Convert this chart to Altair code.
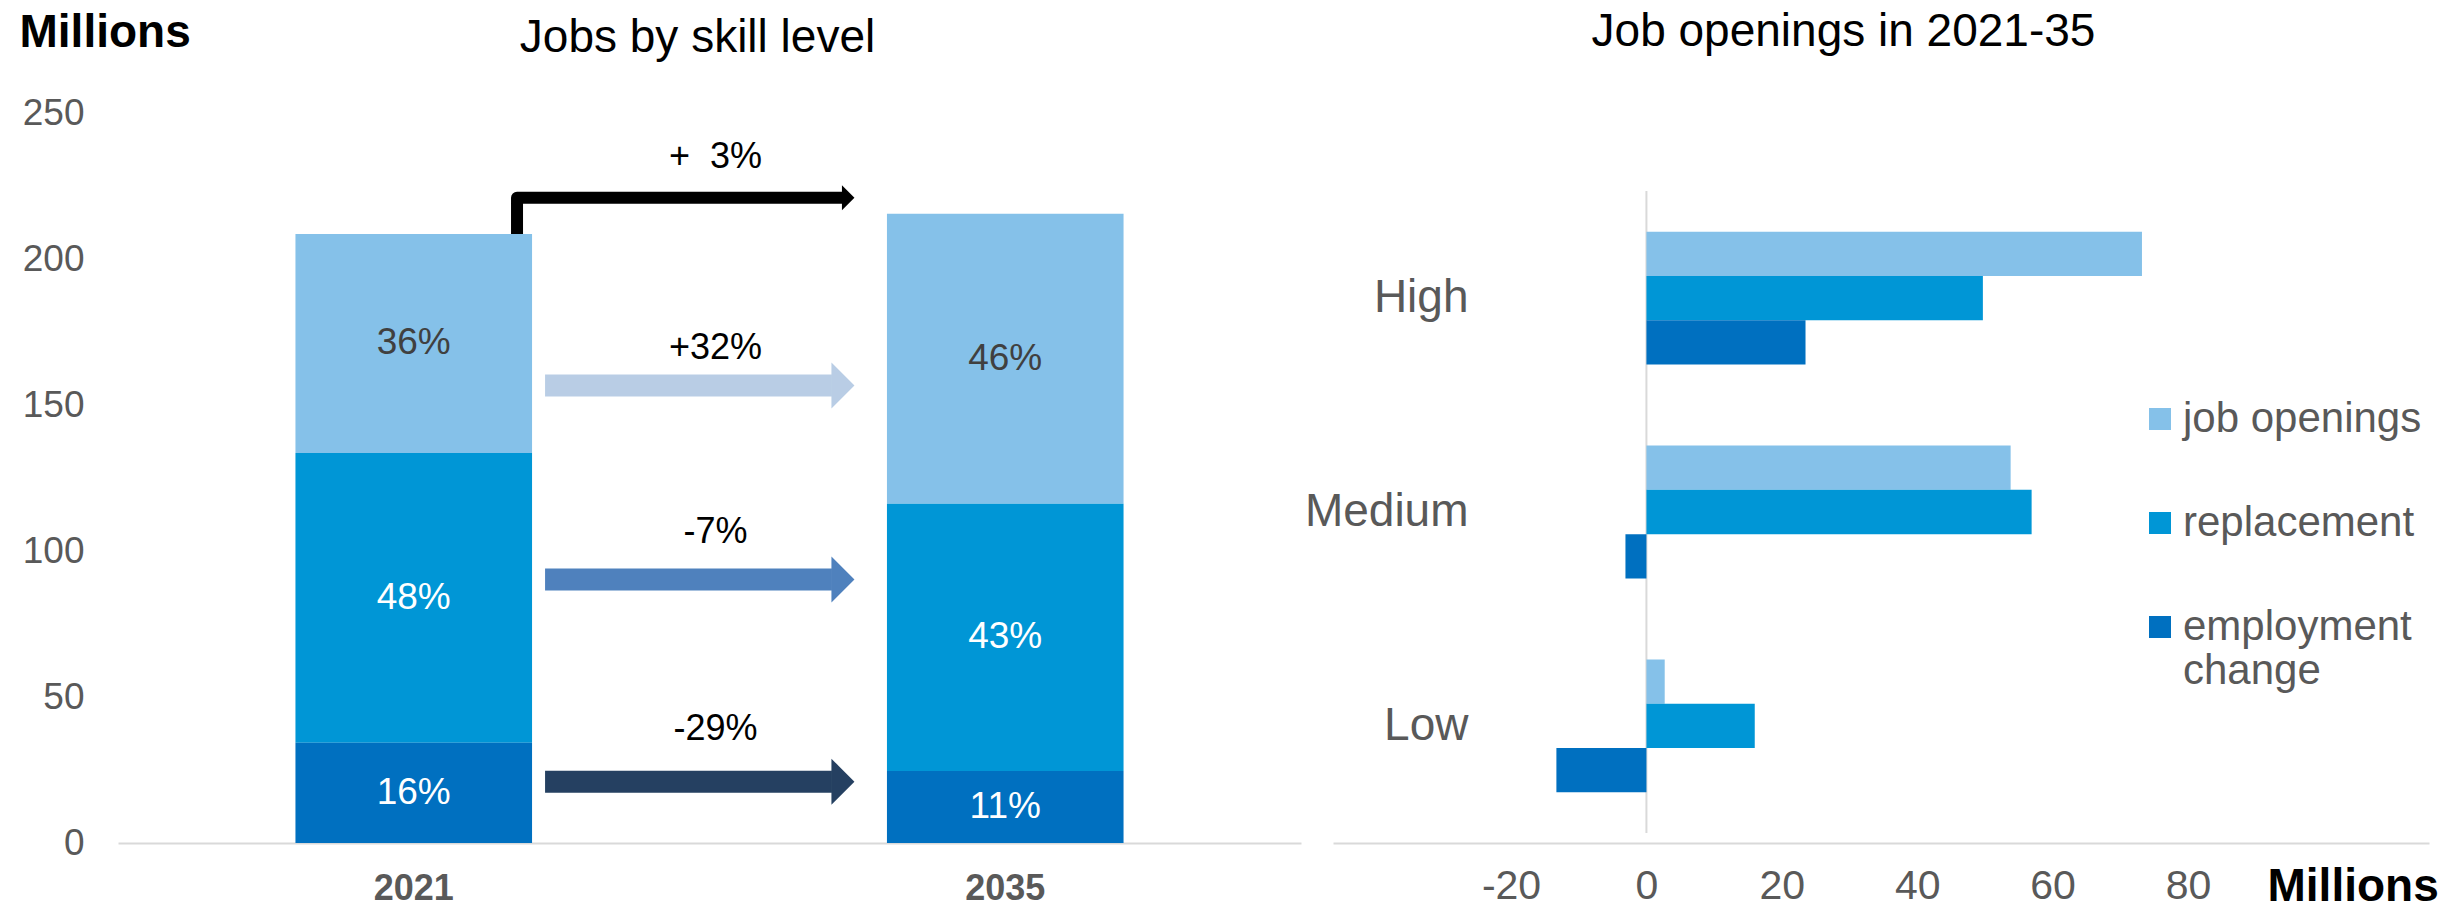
import altair as alt
import pandas as pd

FONT = "Liberation Sans"

# ---------------- left panel: jobs by skill level ----------------
years = ["2021", "2035"]
levels = ["High", "Medium", "Low"]
jobs_2021 = [75.0, 99.3, 34.3]
jobs_2035 = [99.3, 91.5, 24.7]
share_2021 = ["36%", "48%", "16%"]
share_2035 = ["46%", "43%", "11%"]
level_colors = ["#85C1E9", "#0096D6", "#0070C0"]
left_y_ticks = [0, 50, 100, 150, 200, 250]

# change arrows (total, high, medium, low)
change_labels = ["+\u00a0\u00a03%", "+32%", "-7%", "-29%"]
change_label_y = [234.8, 169.4, 106.5, 39.2]
arrow_y = [221.0, 156.7, 90.2, 21.0]
arrow_colors = ["#000000", "#B9CDE5", "#4F81BD", "#254061"]

# ---------------- right panel: job openings 2021-35 ----------------
skills = ["High", "Medium", "Low"]
series = ["job openings", "replacement", "employment change"]
job_openings = [73.2, 53.8, 2.7]
replacement = [49.7, 56.9, 16.0]
employment_change = [23.5, -3.1, -13.3]
series_colors = ["#85C1E9", "#0096D6", "#0070C0"]
right_x_ticks = [-20, 0, 20, 40, 60, 80]

# ---------------- tables ----------------
rows = []
for yr, vals, shares in zip(years, [jobs_2021, jobs_2035], [share_2021, share_2035]):
    for i, (lv, v, s) in enumerate(zip(levels, vals, shares)):
        rows.append({"year": yr, "level": lv, "value": v, "share": s,
                     "stack_order": len(levels) - 1 - i})
bars_df = pd.DataFrame(rows)

straight_df = pd.DataFrame({"y": arrow_y[1:], "color": arrow_colors[1:]})
straight_df["x0"] = 0.722
straight_df["x1"] = 1.207
straight_df["tip"] = 1.245

bent_df = pd.DataFrame({
    "x": [0.6746, 0.6746, 1.226],
    "y": [sum(jobs_2021), arrow_y[0], arrow_y[0]],
    "o": [0, 1, 2],
})
bent_head_df = pd.DataFrame({"tip": [1.245], "y": [arrow_y[0]]})
labels_df = pd.DataFrame({"label": change_labels, "y": change_label_y})
labels_df["x"] = 1.01

rrows = []
for si, sk in enumerate(skills):
    for se, vals in zip(series, [job_openings, replacement, employment_change]):
        rrows.append({"skill": sk, "series": se, "value": vals[si]})
right_df = pd.DataFrame(rrows)

# one slot per skill group: the zero line spans the three slots
zero_df = pd.DataFrame({"z": [0], "g0": [0], "g1": [len(skills)]})

# ---------------- layout (pixels inside the single view) ----------------
VIEW_W, VIEW_H = 2311, 730
LEFT_RANGE = [0, 1183]
RIGHT_RANGE = [1215, 2311]
RIGHT_Y_RANGE = [78, 720]


def band_x():
    return alt.Scale(domain=years, range=LEFT_RANGE, paddingInner=0.6, paddingOuter=0.3)


def y_left():
    return alt.Scale(domain=[0, 250], nice=False)


def q_left():
    return alt.Scale(domain=[0, 2], range=LEFT_RANGE, nice=False, zero=False)


def x_right():
    return alt.Scale(domain=[-46.3, 115.6], range=RIGHT_RANGE, nice=False)


# ---------------- left panel layers ----------------
y_axis_left = alt.Axis(
    orient="left", values=left_y_ticks, title="Millions", titleAngle=0,
    titleX=-99, titleY=-67, titleAlign="left", titleBaseline="alphabetic",
    titleFontSize=46, titleFontWeight="bold", titleColor="black", titleFont=FONT,
    labelFont=FONT, labelFontSize=37, labelColor="#595959", labelPadding=34,
    ticks=False, domain=False, grid=False,
)
x_axis_left = alt.Axis(
    orient="bottom", title=None, labelFont=FONT, labelFontSize=36,
    labelFontWeight="bold", labelColor="#595959", labelPadding=28, labelAngle=0,
    ticks=False, domainColor="#D9D9D9", domainWidth=2, grid=False,
)

left_bars = alt.Chart(bars_df).mark_bar().encode(
    x=alt.X("year:N", scale=band_x(), axis=x_axis_left),
    y=alt.Y("value:Q", stack="zero", scale=y_left(), axis=y_axis_left),
    color=alt.Color("level:N", scale=alt.Scale(domain=levels, range=level_colors), legend=None),
    order=alt.Order("stack_order:Q"),
)

left_text = alt.Chart(bars_df).transform_stack(
    stack="value", groupby=["year"], as_=["v0", "v1"],
    sort=[alt.SortField(field="stack_order", order="ascending")],
).transform_calculate(
    mid="(datum.v0 + datum.v1) / 2"
).mark_text(font=FONT, fontSize=37, baseline="middle", align="center").encode(
    x=alt.X("year:N", scale=band_x(), axis=None, bandPosition=0.5),
    y=alt.Y("mid:Q", scale=y_left(), axis=None),
    text="share:N",
    color=alt.condition(alt.datum.level == "High", alt.value("#404040"), alt.value("white")),
)

arrow_body = alt.Chart(straight_df).mark_rule(strokeWidth=22, strokeCap="butt").encode(
    x=alt.X("x0:Q", scale=q_left(), axis=None),
    x2="x1:Q",
    y=alt.Y("y:Q", scale=y_left(), axis=None),
    color=alt.Color("color:N", scale=None, legend=None),
)
arrow_head = alt.Chart(straight_df).mark_point(
    shape="M-1,-1L0,0L-1,1Z", filled=True, size=2116, opacity=1, strokeWidth=0
).encode(
    x=alt.X("tip:Q", scale=q_left(), axis=None),
    y=alt.Y("y:Q", scale=y_left(), axis=None),
    color=alt.Color("color:N", scale=None, legend=None),
)
bent_line = alt.Chart(bent_df).mark_line(
    color="black", strokeWidth=12, strokeJoin="round", strokeCap="butt"
).encode(
    x=alt.X("x:Q", scale=q_left(), axis=None),
    y=alt.Y("y:Q", scale=y_left(), axis=None),
    order="o:Q",
)
bent_head = alt.Chart(bent_head_df).mark_point(
    shape="M-1,-1L0,0L-1,1Z", filled=True, size=625, opacity=1, strokeWidth=0, color="black"
).encode(
    x=alt.X("tip:Q", scale=q_left(), axis=None),
    y=alt.Y("y:Q", scale=y_left(), axis=None),
)
change_text = alt.Chart(labels_df).mark_text(
    font=FONT, fontSize=36, color="black", baseline="middle", align="center"
).encode(
    x=alt.X(
        "x:Q", scale=q_left(),
        axis=alt.Axis(
            orient="top", labels=False, ticks=False, domain=False, grid=False,
            title="Jobs by skill level", titleX=579, titleY=-62,
            titleAlign="center", titleBaseline="alphabetic", titleFont=FONT,
            titleFontSize=46, titleFontWeight="normal", titleColor="black",
        ),
    ),
    y=alt.Y("y:Q", scale=y_left(), axis=None),
    text="label:N",
)

# ---------------- right panel layers ----------------
zero_rule = alt.Chart(zero_df).mark_rule(color="#D9D9D9", strokeWidth=2).encode(
    x=alt.X(
        "z:Q", scale=x_right(),
        axis=alt.Axis(
            orient="top", labels=False, ticks=False, domain=False, grid=False,
            title="Job openings in 2021-35", titleX=1725, titleY=-68,
            titleAlign="center", titleBaseline="alphabetic", titleFont=FONT,
            titleFontSize=46, titleFontWeight="normal", titleColor="black",
        ),
    ),
    y=alt.Y("g0:Q", scale=alt.Scale(domain=[0, len(skills)], range=RIGHT_Y_RANGE, nice=False, zero=False), axis=None),
    y2="g1:Q",
)

right_bars = alt.Chart(right_df).mark_bar().encode(
    x=alt.X(
        "value:Q", stack=None, scale=x_right(),
        axis=alt.Axis(
            orient="bottom", values=right_x_ticks, labelExpr="'' + datum.value",
            title="Millions", titleX=2149, titleY=57, titleAlign="left",
            titleBaseline="alphabetic", titleFontSize=46, titleFontWeight="bold",
            titleColor="black", titleFont=FONT, labelFont=FONT,
            labelFontSize=41, labelColor="#595959", labelPadding=23,
            ticks=False, grid=False, domainColor="#D9D9D9", domainWidth=2,
            labelFlush=False, labelOverlap=False,
        ),
    ),
    y=alt.Y(
        "skill:N", sort=skills,
        scale=alt.Scale(domain=skills, range=RIGHT_Y_RANGE, paddingInner=0.379, paddingOuter=0.19),
        axis=alt.Axis(
            orient="left", title=None, labelFont=FONT, labelFontSize=46,
            labelColor="#595959", labelPadding=0, offset=-1350, ticks=False,
            domain=False, grid=False,
        ),
    ),
    yOffset=alt.YOffset(
        "series:N", sort=series,
        scale=alt.Scale(domain=series, paddingInner=0, paddingOuter=0),
    ),
    color=alt.Color(
        "series:N", sort=series,
        scale=alt.Scale(domain=series, range=series_colors),
        legend=alt.Legend(
            title=None, orient="none", legendX=2021, legendY=285,
            direction="vertical", symbolType="square", symbolSize=484,
            symbolStrokeWidth=0, labelFont=FONT, labelFontSize=42,
            labelColor="#595959", labelOffset=2, rowPadding=62, padding=0,
            labelLimit=0,
            labelExpr="datum.label == 'employment change' ? ['employment', 'change'] : datum.label",
        ),
    ),
)

chart = alt.layer(
    left_bars, left_text, arrow_body, arrow_head, bent_line, bent_head, change_text,
    zero_rule, right_bars,
).resolve_scale(
    x="independent", y="independent", color="independent"
).properties(
    width=VIEW_W, height=VIEW_H,
    autosize=alt.AutoSizeParams(type="none"),
    padding={"left": 110, "top": 105, "right": 22, "bottom": 63},
).configure(font=FONT).configure_view(stroke=None)

chart.save("out.html", embed_options={"renderer": "svg", "actions": False})
